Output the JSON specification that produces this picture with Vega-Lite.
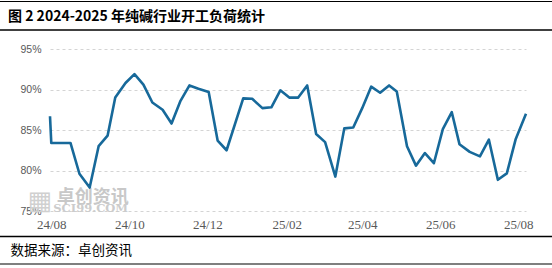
{
  "$schema": "https://vega.github.io/schema/vega-lite/v6.json",
  "width": 476,
  "height": 162,
  "autosize": {"type": "none"},
  "padding": {"left": 50, "top": 49, "right": 26, "bottom": 57},
  "background": "white",
  "title": {
    "text": "图 2 2024-2025 年纯碱行业开工负荷统计",
    "anchor": "start",
    "frame": "group",
    "dx": -42,
    "offset": 0,
    "dy": 30,
    "baseline": "middle",
    "fontSize": 14,
    "font": "Noto Sans CJK SC",
    "fontWeight": "bold",
    "color": "#000000"
  },
  "config": {
    "view": {"stroke": null},
    "axis": {"domain": false, "ticks": false}
  },
  "datasets": {
    "blank": [{"k": 1}]
  },
  "data": {
    "values": [
      {"date": "2024-07-31", "rate": 86.7},
      {"date": "2024-08-01", "rate": 83.4},
      {"date": "2024-08-16", "rate": 83.4},
      {"date": "2024-08-23", "rate": 79.6},
      {"date": "2024-08-31", "rate": 77.9},
      {"date": "2024-09-07", "rate": 83.0},
      {"date": "2024-09-14", "rate": 84.3},
      {"date": "2024-09-20", "rate": 89.0},
      {"date": "2024-09-28", "rate": 90.8},
      {"date": "2024-10-05", "rate": 91.9},
      {"date": "2024-10-12", "rate": 90.6},
      {"date": "2024-10-19", "rate": 88.4},
      {"date": "2024-10-27", "rate": 87.5},
      {"date": "2024-11-03", "rate": 85.8},
      {"date": "2024-11-10", "rate": 88.6},
      {"date": "2024-11-17", "rate": 90.5},
      {"date": "2024-11-24", "rate": 90.1},
      {"date": "2024-12-02", "rate": 89.7},
      {"date": "2024-12-09", "rate": 83.7},
      {"date": "2024-12-16", "rate": 82.5},
      {"date": "2024-12-29", "rate": 88.9},
      {"date": "2025-01-05", "rate": 88.85},
      {"date": "2025-01-13", "rate": 87.7},
      {"date": "2025-01-20", "rate": 87.8},
      {"date": "2025-01-27", "rate": 89.9},
      {"date": "2025-02-03", "rate": 89.0},
      {"date": "2025-02-10", "rate": 89.0},
      {"date": "2025-02-17", "rate": 90.5},
      {"date": "2025-02-24", "rate": 84.5},
      {"date": "2025-03-03", "rate": 83.5},
      {"date": "2025-03-11", "rate": 79.25},
      {"date": "2025-03-18", "rate": 85.2},
      {"date": "2025-03-25", "rate": 85.3},
      {"date": "2025-04-01", "rate": 87.7},
      {"date": "2025-04-08", "rate": 90.35},
      {"date": "2025-04-15", "rate": 89.6},
      {"date": "2025-04-22", "rate": 90.5},
      {"date": "2025-04-28", "rate": 89.75},
      {"date": "2025-05-06", "rate": 83.0},
      {"date": "2025-05-13", "rate": 80.6},
      {"date": "2025-05-20", "rate": 82.15},
      {"date": "2025-05-27", "rate": 80.9},
      {"date": "2025-06-03", "rate": 85.1},
      {"date": "2025-06-10", "rate": 87.2},
      {"date": "2025-06-16", "rate": 83.25},
      {"date": "2025-06-24", "rate": 82.3},
      {"date": "2025-07-02", "rate": 81.75},
      {"date": "2025-07-09", "rate": 83.8},
      {"date": "2025-07-16", "rate": 78.85},
      {"date": "2025-07-23", "rate": 79.65},
      {"date": "2025-07-30", "rate": 83.9},
      {"date": "2025-08-07", "rate": 87.0}
    ]
  },
  "encoding": {
    "x": {
      "field": "date",
      "type": "temporal",
      "scale": {
        "type": "utc",
        "domain": [
          {"year": 2024, "month": 7, "date": 31, "utc": true},
          {"year": 2025, "month": 8, "date": 7, "utc": true}
        ]
      },
      "axis": {
        "values": [
          {"year": 2024, "month": 8, "date": 1, "utc": true},
          {"year": 2024, "month": 10, "date": 1, "utc": true},
          {"year": 2024, "month": 12, "date": 1, "utc": true},
          {"year": 2025, "month": 2, "date": 1, "utc": true},
          {"year": 2025, "month": 4, "date": 1, "utc": true},
          {"year": 2025, "month": 6, "date": 1, "utc": true},
          {"year": 2025, "month": 8, "date": 1, "utc": true}
        ],
        "labelExpr": "utcFormat(datum.value, '%y/%m')",
        "grid": false,
        "labelFont": "Liberation Serif",
        "labelFontSize": 13,
        "labelColor": "#595959",
        "labelPadding": 7,
        "labelFlush": false,
        "title": "数据来源：卓创资讯",
        "titleFont": "Noto Sans CJK SC",
        "titleFontSize": 13.5,
        "titleFontWeight": "normal",
        "titleColor": "#000000",
        "titleAlign": "left",
        "titleAnchor": "start",
        "titleX": -40,
        "titleY": 39,
        "titleBaseline": "middle"
      }
    },
    "y": {
      "field": "rate",
      "type": "quantitative",
      "scale": {"domain": [75, 95], "nice": false, "zero": false},
      "axis": {
        "values": [75, 80, 85, 90, 95],
        "labelExpr": "datum.value + '%'",
        "grid": true,
        "gridDash": [3, 3],
        "gridColor": "#d4d4d4",
        "gridWidth": 1,
        "labelFont": "Liberation Sans",
        "labelFontSize": 10.5,
        "labelColor": "#595959",
        "labelPadding": 9,
        "title": null
      }
    }
  },
  "layer": [
    {
      "transform": [{"filter": "datum.rate == 77.9"}],
      "mark": {"type": "text", "font": "Noto Sans CJK SC", "fontWeight": "bold", "fontSize": 18, "align": "center", "baseline": "middle", "dx": 3, "dy": 2},
      "encoding": {
        "y": {"datum": 76.8, "type": "quantitative"},
        "text": {"value": "卓创资讯"},
        "color": {"value": "#c8c8c8"}
      }
    },
    {
      "transform": [{"filter": "datum.rate == 77.9"}],
      "mark": {"type": "text", "font": "DejaVu Serif", "fontWeight": "bold", "fontSize": 11.5, "align": "center", "baseline": "middle", "dx": 1},
      "encoding": {
        "y": {"datum": 75.3, "type": "quantitative"},
        "text": {"value": "SCI99.COM"},
        "color": {"value": "#cccccc"}
      }
    },
    {
      "transform": [{"filter": "datum.rate == 77.9"}],
      "mark": {"type": "text", "font": "DejaVu Sans", "fontSize": 26, "align": "center", "baseline": "middle", "dx": -50},
      "encoding": {
        "y": {"datum": 76.2, "type": "quantitative"},
        "text": {"value": "▦"},
        "color": {"value": "#d0d0d0"}
      }
    },
    {
      "mark": {"type": "line", "color": "#17699a", "strokeWidth": 2.6, "strokeJoin": "round"}
    },
    {
      "data": {"name": "blank"},
      "mark": {"type": "rule", "color": "#000000", "strokeWidth": 1.2},
      "encoding": {"x": {"value": -50}, "x2": {"value": 502}, "y": {"value": -47.5}}
    },
    {
      "data": {"name": "blank"},
      "mark": {"type": "rule", "color": "#000000", "strokeWidth": 1.5},
      "encoding": {"x": {"value": -50}, "x2": {"value": 502}, "y": {"value": -19}}
    },
    {
      "data": {"name": "blank"},
      "mark": {"type": "rule", "color": "#000000", "strokeWidth": 1.5},
      "encoding": {"x": {"value": -50}, "x2": {"value": 502}, "y": {"value": 187.5}}
    },
    {
      "data": {"name": "blank"},
      "mark": {"type": "rule", "color": "#000000", "strokeWidth": 1.2},
      "encoding": {"x": {"value": -50}, "x2": {"value": 502}, "y": {"value": 215}}
    }
  ]
}
